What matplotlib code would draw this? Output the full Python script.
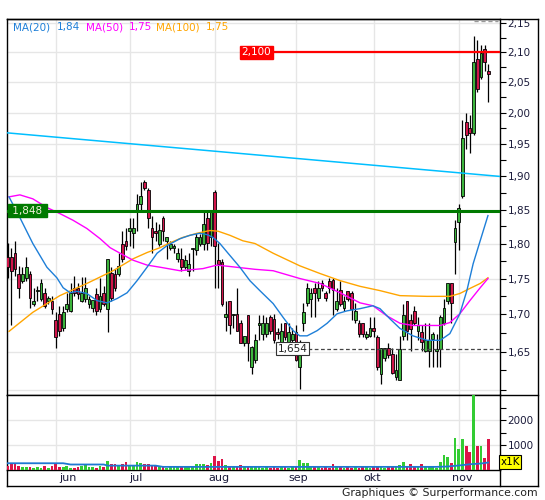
import matplotlib
matplotlib.use("Agg")
import matplotlib.pyplot as plt
from matplotlib.ticker import FixedLocator, FixedFormatter, NullFormatter
from matplotlib.lines import Line2D

# ---------------- data (daily candles, mid-May .. 11 Nov) ----------------
opens = [1.781,1.781,1.787,1.757,1.747,1.751,1.757,1.715,1.732,1.722,
         1.729,1.718,1.718,1.693,1.701,1.681,1.707,1.705,1.736,1.737,
         1.719,1.722,1.715,1.709,1.728,1.707,1.730,1.708,1.758,1.757,
         1.757,1.799,1.804,1.819,1.815,1.846,1.859,1.892,1.879,1.823,
         1.819,1.799,1.838,1.803,1.794,1.793,1.778,1.778,1.767,1.760,
         1.792,1.791,1.799,1.799,1.838,1.809,1.876,1.777,1.773,1.697,
         1.718,1.699,1.701,1.688,1.661,1.699,1.629,1.639,1.686,1.673,
         1.673,1.697,1.694,1.676,1.662,1.688,1.662,1.665,1.676,1.629,
         1.688,1.716,1.722,1.736,1.723,1.743,1.729,1.747,1.748,1.708,
         1.734,1.709,1.732,1.730,1.693,1.688,1.688,1.669,1.671,1.681,
         1.669,1.620,1.642,1.655,1.647,1.617,1.613,1.671,1.718,1.693,
         1.705,1.678,1.676,1.651,1.651,1.667,1.651,1.653,1.688,1.719,
         1.743,1.802,1.831,1.870,1.986,1.975,1.967,2.089,2.059,2.105,
         2.069]
highs = [1.801,1.793,1.804,1.768,1.767,1.780,1.761,1.737,1.740,1.750,
         1.736,1.726,1.726,1.703,1.712,1.712,1.729,1.743,1.754,1.743,
         1.752,1.752,1.726,1.715,1.736,1.751,1.740,1.778,1.767,1.764,
         1.786,1.819,1.822,1.838,1.838,1.874,1.891,1.894,1.882,1.841,
         1.831,1.829,1.841,1.810,1.804,1.800,1.794,1.794,1.783,1.786,
         1.793,1.816,1.814,1.849,1.849,1.849,1.879,1.801,1.778,1.719,
         1.719,1.701,1.737,1.692,1.671,1.699,1.658,1.674,1.699,1.699,
         1.696,1.699,1.701,1.681,1.688,1.689,1.688,1.681,1.685,1.665,
         1.716,1.744,1.737,1.743,1.747,1.748,1.733,1.751,1.751,1.736,
         1.747,1.726,1.733,1.733,1.716,1.692,1.689,1.678,1.696,1.696,
         1.672,1.655,1.655,1.662,1.655,1.647,1.671,1.715,1.719,1.701,
         1.712,1.696,1.685,1.689,1.689,1.676,1.674,1.699,1.722,1.744,
         1.744,1.834,1.859,1.988,1.999,1.996,2.128,2.120,2.112,2.112,
         2.081]
lows = [1.751,1.685,1.754,1.723,1.743,1.747,1.709,1.712,1.719,1.719,
        1.709,1.715,1.701,1.655,1.671,1.678,1.704,1.703,1.726,1.722,
        1.717,1.717,1.709,1.703,1.699,1.704,1.712,1.676,1.719,1.733,
        1.754,1.773,1.790,1.797,1.794,1.819,1.849,1.879,1.823,1.787,
        1.804,1.796,1.804,1.778,1.790,1.787,1.773,1.761,1.764,1.754,
        1.761,1.783,1.796,1.790,1.790,1.797,1.737,1.737,1.712,1.678,
        1.674,1.682,1.678,1.661,1.658,1.638,1.621,1.635,1.665,1.665,
        1.669,1.674,1.662,1.667,1.647,1.665,1.658,1.658,1.638,1.601,
        1.678,1.712,1.696,1.696,1.719,1.733,1.719,1.730,1.699,1.705,
        1.712,1.705,1.719,1.692,1.689,1.669,1.670,1.667,1.669,1.669,
        1.625,1.608,1.638,1.642,1.621,1.612,1.612,1.665,1.665,1.651,
        1.685,1.665,1.651,1.649,1.629,1.629,1.629,1.629,1.685,1.715,
        1.689,1.757,1.790,1.868,1.943,1.937,1.964,2.033,2.056,2.069,
        2.017]
closes = [1.766,1.761,1.763,1.737,1.757,1.766,1.723,1.719,1.733,1.743,
          1.712,1.723,1.708,1.670,1.678,1.703,1.715,1.729,1.729,1.728,
          1.730,1.736,1.722,1.720,1.705,1.726,1.715,1.778,1.723,1.737,
          1.768,1.778,1.797,1.823,1.822,1.859,1.871,1.883,1.838,1.809,
          1.816,1.820,1.819,1.809,1.799,1.797,1.787,1.766,1.777,1.771,
          1.793,1.809,1.809,1.829,1.801,1.846,1.797,1.771,1.715,1.701,
          1.686,1.701,1.678,1.661,1.671,1.661,1.656,1.665,1.688,1.688,
          1.689,1.678,1.665,1.674,1.677,1.669,1.676,1.674,1.639,1.661,
          1.704,1.736,1.730,1.729,1.736,1.736,1.723,1.737,1.734,1.719,
          1.715,1.719,1.722,1.708,1.705,1.674,1.673,1.673,1.681,1.677,
          1.629,1.655,1.655,1.645,1.622,1.626,1.653,1.699,1.678,1.680,
          1.688,1.686,1.663,1.665,1.665,1.674,1.653,1.697,1.709,1.743,
          1.716,1.823,1.853,1.959,1.964,1.967,2.083,2.038,2.098,2.083,
          2.064]
volumes = [160, 300, 300, 160, 110, 110, 110, 70, 110, 100,
           160, 80, 160, 230, 110, 110, 160, 70, 70, 110,
           160, 230, 110, 110, 80, 160, 110, 380, 230, 230,
           160, 260, 340, 190, 160, 340, 300, 230, 230, 190,
           190, 110, 110, 80, 110, 110, 160, 110, 110, 110,
           160, 230, 260, 260, 190, 300, 560, 380, 450, 190,
           110, 160, 110, 190, 110, 160, 110, 160, 110, 80,
           110, 80, 110, 80, 110, 110, 80, 110, 110, 420,
           300, 300, 110, 110, 110, 80, 110, 80, 230, 110,
           110, 80, 110, 80, 110, 80, 110, 110, 80, 110,
           110, 110, 80, 110, 110, 160, 200, 340, 160, 260,
           110, 110, 230, 110, 110, 110, 80, 340, 620, 520,
           280, 1300, 850, 1250, 950, 720, 3100, 950, 950, 500,
           1250]

# moving averages (candle index, price)
ma20_idx = [0.35, 3.3, 6.8, 10.6, 13.3, 15, 16.9, 18.7, 21.4, 24.2, 26.9, 29.6, 32.3, 35, 37.7,
            40.4, 43.1, 46.6, 49.3, 52, 53.9, 55.5, 57.4, 59.6, 62.8, 65.5, 68.2, 71.8, 74.5, 77.2,
            79, 81, 83.7, 86.4, 89.1, 91.8, 95.3, 98.8, 100.7, 103.4, 106.1, 109.6, 113.4, 117, 119.6,
            122.3, 124.2, 125.9, 127.8, 129.9]
ma20_val = [1.869, 1.838, 1.800, 1.766, 1.751, 1.737, 1.730, 1.732, 1.729, 1.719, 1.716, 1.722, 1.730, 1.747, 1.766,
            1.786, 1.797, 1.807, 1.812, 1.815, 1.813, 1.809, 1.800, 1.786, 1.766, 1.747, 1.733, 1.715, 1.696, 1.678,
            1.671, 1.671, 1.678, 1.688, 1.701, 1.705, 1.708, 1.712, 1.708, 1.694, 1.681, 1.671, 1.665, 1.665, 1.674,
            1.701, 1.733, 1.771, 1.804, 1.841]
ma50_idx = [0.35, 3.3, 6.8, 10.6, 14.1, 17.7, 21.4, 25, 27.7, 30.4, 33.9, 37.7, 41.2, 46.6, 52.8,
            56.6, 60.1, 66.9, 71.8, 79, 84.5, 89.9, 95.3, 98.8, 102.6, 106.1, 109.6, 117, 119.6, 122.3,
            125, 127.8, 129.9]
ma50_val = [1.869, 1.872, 1.866, 1.853, 1.844, 1.834, 1.822, 1.807, 1.794, 1.786, 1.776, 1.769, 1.766, 1.761, 1.764,
            1.769, 1.767, 1.763, 1.761, 1.750, 1.743, 1.730, 1.716, 1.712, 1.698, 1.688, 1.685, 1.685, 1.689, 1.701,
            1.719, 1.737, 1.750]
ma100_idx = [0.35, 6.8, 14.1, 21.4, 28.5, 33.9, 37.7, 41.2, 43.9, 47.4, 51.2, 54.7, 56.9, 60.1, 63.6,
             66.9, 71.8, 79, 84.5, 89.9, 95.3, 100.7, 106.1, 113.4, 119.6, 122.3, 125, 127.8, 129.9]
ma100_val = [1.677, 1.703, 1.726, 1.743, 1.761, 1.778, 1.787, 1.794, 1.801, 1.809, 1.815, 1.819, 1.818, 1.812, 1.804,
             1.800, 1.786, 1.768, 1.757, 1.747, 1.739, 1.733, 1.726, 1.725, 1.725, 1.729, 1.736, 1.743, 1.751]
vol_ma_idx = [0, 15, 17, 26, 27, 40, 42, 116, 119, 122, 125, 128, 130]
vol_ma_val = [270, 270, 220, 220, 175, 175, 125, 125, 140, 180, 230, 260, 300]

trend_idx = [-0.3, 133.2]
trend_val = [1.968, 1.900]

level_values = [2.100, 1.848, 1.654]
level_labels = ["2,100", " 1,848 ", "1,654"]

month_names = ["jun", "jul", "aug", "sep", "okt", "nov"]
month_start_idx = [13, 33, 56, 78, 99, 122]
month_label_idx = [16.3, 34.8, 57.2, 78.5, 98.7, 123.0]

price_ticks = [1.60, 1.65, 1.70, 1.75, 1.80, 1.85, 1.90, 1.95, 2.00, 2.05, 2.10, 2.15]
price_tick_labels = ["", "1,65", "1,70", "1,75", "1,80", "1,85", "1,90", "1,95", "2,00", "2,05", "2,10", "2,15"]
price_minor = [1.625, 1.675, 1.725, 1.775, 1.825, 1.875, 1.925, 1.975, 2.025, 2.075, 2.125]
vol_ticks = [1000, 2000]
vol_tick_labels = ["1000", "2000"]
vol_minor = [500, 1500, 2500]

legend_names = ["MA(20)", "MA(50)", "MA(100)"]
legend_values = ["1,84", "1,75", "1,75"]

# ---------------- styling ----------------
W, H = 545, 500
UP, DN = "#3CB43C", "#D0154A"
VUP, VDN = "#33CC33", "#DD1448"
C20, C50, C100 = "#1E7FD8", "#FF00FF", "#FFA500"
GRID = "#E6E6E6"
TXT = "#1A1A3A"

fig = plt.figure(figsize=(W / 100, H / 100), dpi=100)
fig.patch.set_facecolor("white")


def rect(x0, y0, x1, y1):
    return [x0 / W, 1 - y1 / H, (x1 - x0) / W, (y1 - y0) / H]


ax = fig.add_axes(rect(6.7, 19, 500, 395))
axv = fig.add_axes(rect(6.7, 395, 500, 470))
XMIN, XMAX = -0.27, 133.16
n = len(closes)
idx = list(range(n))

# ---- candles
ax.set_yscale("log")
ax.vlines(idx, lows, highs, color="black", lw=0.9, zorder=3)
bottoms = [min(o, c) for o, c in zip(opens, closes)]
heights = [max(abs(c - o), 0.0012) for o, c in zip(opens, closes)]
ccol = [UP if c >= o else DN for o, c in zip(opens, closes)]
ax.bar(idx, heights, bottom=bottoms, width=0.74, color=ccol, edgecolor="black",
       linewidth=0.6, zorder=4)

# ---- moving averages and trend line
ax.plot(trend_idx, trend_val, color="#00BFFF", lw=1.1, zorder=5)
ax.plot(ma100_idx, ma100_val, color=C100, lw=1.0, zorder=5)
ax.plot(ma50_idx, ma50_val, color=C50, lw=1.0, zorder=5)
ax.plot(ma20_idx, ma20_val, color=C20, lw=1.0, zorder=5)

# ---- horizontal levels
ax.plot([71.5, XMAX], [level_values[0]] * 2, color="#FF0000", lw=1.6, zorder=6)
ax.plot([XMIN, XMAX], [level_values[1]] * 2, color="#007A00", lw=2.2, zorder=6)
ax.plot([81.2, XMAX], [level_values[2]] * 2, color="#444444", lw=0.9,
        linestyle=(0, (3, 2)), zorder=6)
ax.text(67.2, level_values[0], level_labels[0], fontsize=7.5, color="white",
        ha="center", va="center", zorder=8,
        bbox=dict(boxstyle="square,pad=0.15", fc="#FF0000", ec="#FF0000"))
ax.text(5.4, level_values[1], level_labels[1], fontsize=7.5, color="#F0F0D8",
        ha="center", va="center", zorder=8,
        bbox=dict(boxstyle="square,pad=0.15", fc="#007A00", ec="#007A00"))
ax.text(77.0, level_values[2], level_labels[2], fontsize=7.5, color="#222222",
        ha="center", va="center", zorder=8,
        bbox=dict(boxstyle="square,pad=0.15", fc="white", ec="#333333", lw=0.8))

ax.set_xlim(XMIN, XMAX)
ax.set_ylim(1.5932, 2.157)
ax.yaxis.set_major_locator(FixedLocator(price_ticks))
ax.yaxis.set_major_formatter(FixedFormatter(price_tick_labels))
ax.yaxis.set_minor_locator(FixedLocator(price_minor))
ax.yaxis.set_minor_formatter(NullFormatter())
ax.yaxis.tick_right()
ax.tick_params(axis="y", which="both", direction="out", length=4, width=0.8,
               labelsize=7.5, pad=1.5, labelcolor=TXT)
ax.set_xticks(month_start_idx)
ax.tick_params(axis="x", length=0, labelbottom=False)
ax.grid(True, which="major", color=GRID, lw=1)
ax.set_axisbelow(True)
for s in ax.spines.values():
    s.set_color("black")
    s.set_linewidth(1)

# ---- volume panel
vcol = [VUP if c >= o else VDN for o, c in zip(opens, closes)]
axv.bar(idx, volumes, width=0.74, color=vcol, linewidth=0, zorder=3)
axv.plot(vol_ma_idx, vol_ma_val, color="#1E78D2", lw=1.3, zorder=4)
axv.set_xlim(XMIN, XMAX)
axv.set_ylim(0, 3000)
axv.yaxis.set_major_locator(FixedLocator(vol_ticks))
axv.yaxis.set_major_formatter(FixedFormatter(vol_tick_labels))
axv.yaxis.set_minor_locator(FixedLocator(vol_minor))
axv.yaxis.set_minor_formatter(NullFormatter())
axv.yaxis.tick_right()
axv.tick_params(axis="y", which="both", direction="out", length=4, width=0.8,
                labelsize=7.5, pad=1.5, labelcolor=TXT)
axv.set_xticks(month_start_idx)
axv.set_xticklabels([])
axv.set_xticks(month_label_idx, minor=True)
axv.set_xticklabels(month_names, minor=True)
axv.tick_params(axis="x", which="both", length=0)
axv.tick_params(axis="x", which="minor", labelsize=8, pad=2.5, labelcolor=TXT)
axv.grid(True, which="major", color=GRID, lw=1)
axv.set_axisbelow(True)
for s in axv.spines.values():
    s.set_color("black")
    s.set_linewidth(1)


# ---- outer frame
def pxline(x0, y0, x1, y1, **kw):
    fig.add_artist(Line2D([x0 / W, x1 / W], [1 - y0 / H, 1 - y1 / H],
                          transform=fig.transFigure, **kw))


pxline(6.7, 19, 538, 19, color="black", lw=1)
pxline(538, 19, 538, 486, color="black", lw=1)
pxline(6.7, 486, 538, 486, color="black", lw=1)
pxline(6.7, 470, 6.7, 486, color="black", lw=1)
pxline(500, 470, 500, 486, color="black", lw=1)
pxline(500, 395, 538, 395, color="black", lw=1)
pxline(474, 20.5, 498, 20.5, color="#999999", lw=1, linestyle=(0, (3, 2)))

# ---- legend text at top
xs = [13, 57, 86, 129, 156, 206]
cols = [C20, C20, C50, C50, C100, C100]
texts = [legend_names[0], legend_values[0], legend_names[1], legend_values[1],
         legend_names[2], legend_values[2]]
for x, t, c in zip(xs, texts, cols):
    fig.text(x / W, 1 - 27 / H, t, color=c, fontsize=7.5, ha="left", va="center")

fig.text(510 / W, 1 - 462 / H, "x1K", fontsize=7.5, color="black", ha="center",
         va="center", bbox=dict(boxstyle="square,pad=0.15", fc="#FFFF00", ec="black", lw=0.8))
fig.text(538 / W, 1 - 493 / H, "Graphiques \u00a9 Surperformance.com", fontsize=7.8,
         color="#222222", ha="right", va="center")

fig.savefig("out.png", dpi=100)
